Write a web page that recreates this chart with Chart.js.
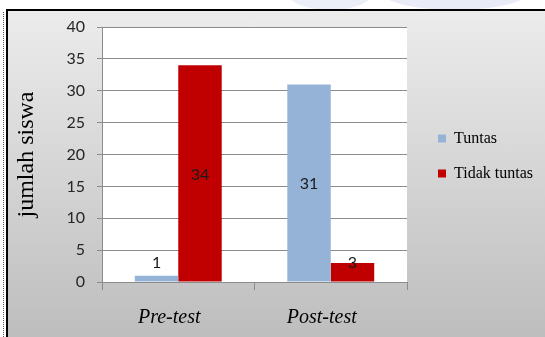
<!DOCTYPE html>
<html>
<head>
<meta charset="utf-8">
<script src="https://cdn.jsdelivr.net/npm/chart.js@4.4.1/dist/chart.umd.min.js"></script>
<style>
  html, body { margin: 0; padding: 0; background: #fff; }
  #wrap { position: relative; width: 545px; height: 337px; overflow: hidden; }
  #mark1 { position: absolute; left: 285px; top: -30px; width: 90px; height: 40px; border-radius: 50%; background: #eceef8; }
  #mark2 { position: absolute; left: 380px; top: -28px; width: 150px; height: 38px; border-radius: 50%; background: #e9ecf7; }
  #dots { position: absolute; left: 3px; top: 12px; bottom: 0; border-left: 1px dotted #555; }
  #frame {
    position: absolute; left: 6px; top: 9px; right: -4px; bottom: -4px;
    border-left: 2px solid #000; border-top: 2px solid #000;
    background: linear-gradient(#ececec, #bdbdbd);
  }
  canvas { position: absolute; left: 0; top: 0; }
</style>
</head>
<body>
<div id="wrap">
  <div id="mark1"></div>
  <div id="mark2"></div>
  <div id="dots"></div>
  <div id="frame"></div>
  <canvas id="chart" width="545" height="337"></canvas>
</div>
<script>
const categories = ["Pre-test", "Post-test"];
const tuntas = [1, 31];
const tidakTuntas = [34, 3];
const seriesNames = ["Tuntas", "Tidak tuntas"];
const yMin = 0, yMax = 40, yStep = 5;

const axisGray = "#8c8c8c";

// white plot area behind the bars
const plotBg = {
  id: "plotBg",
  beforeDraw(chart) {
    const a = chart.chartArea, ctx = chart.ctx;
    ctx.save();
    ctx.fillStyle = "#fff";
    ctx.fillRect(a.left, a.top, a.right - a.left, a.bottom - a.top);
    ctx.restore();
  }
};

// value labels, centred in the bar (lifted above short bars)
const barLabels = {
  id: "barLabels",
  afterDatasetsDraw(chart) {
    const ctx = chart.ctx;
    ctx.save();
    ctx.font = "16px Lato";
    ctx.fillStyle = "#1a1a1a";
    ctx.textAlign = "center";
    ctx.textBaseline = "middle";
    chart.data.datasets.forEach((ds, i) => {
      chart.getDatasetMeta(i).data.forEach((bar, j) => {
        const y = Math.min((bar.y + bar.base) / 2 + 1, bar.base - 19);
        ctx.fillText(String(ds.data[j]), bar.x, y);
      });
    });
    ctx.restore();
  }
};

// nudge the legend: a little right of the plot, centred on the upper half
const legendShift = {
  id: "legendShift",
  afterLayout(chart) {
    const lg = chart.legend;
    if (!lg) return;
    lg.left += 12; lg.right += 12;
    lg.top -= 26; lg.bottom -= 26;
  }
};

new Chart(document.getElementById("chart"), {
  type: "bar",
  data: {
    labels: categories,
    datasets: [
      { label: seriesNames[0], data: tuntas, backgroundColor: "#95b3d7" },
      { label: seriesNames[1], data: tidakTuntas, backgroundColor: "#c00000" }
    ]
  },
  options: {
    responsive: false,
    animation: false,
    events: [],
    layout: { padding: { left: 10, top: 27, right: 14, bottom: 0 } },
    datasets: { bar: { barPercentage: 1.0, categoryPercentage: 0.57 } },
    plugins: {
      tooltip: { enabled: false },
      legend: {
        position: "right",
        align: "center",
        labels: {
          boxWidth: 8,
          boxHeight: 8,
          padding: 19,
          color: "#000",
          font: { family: "Liberation Serif", size: 16 }
        }
      }
    },
    scales: {
      x: {
        grid: { display: true, drawOnChartArea: false, offset: true, tickLength: 8, color: axisGray },
        border: { color: axisGray },
        ticks: {
          color: "#000",
          padding: 16,
          labelOffset: -9,
          font: { family: "Liberation Serif", size: 20, style: "italic" }
        },
        afterFit(s) { s.height = 55; }
      },
      y: {
        min: yMin,
        max: yMax,
        grid: { color: axisGray, tickLength: 5 },
        border: { color: axisGray },
        ticks: {
          stepSize: yStep,
          color: "#262626",
          padding: 12,
          font: { family: "Lato", size: 16 }
        },
        title: {
          display: true,
          text: "jumlah siswa",
          color: "#000",
          padding: { top: 2, bottom: 2 },
          font: { family: "Liberation Serif", size: 24 }
        },
        afterFit(s) { s.width = 92; }
      }
    }
  },
  plugins: [plotBg, barLabels, legendShift]
});
</script>
</body>
</html>
